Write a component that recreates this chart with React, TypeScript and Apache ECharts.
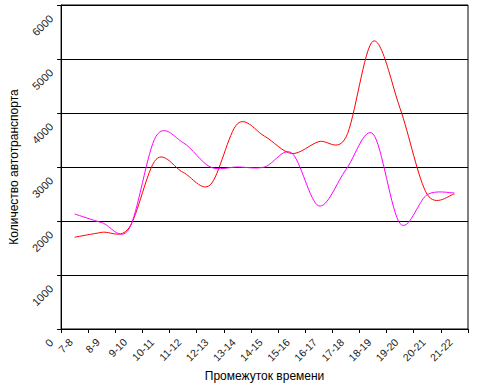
import React, { useEffect, useRef } from "react";
import * as echarts from "echarts";

const categories = ["7-8", "8-9", "9-10", "10-11", "11-12", "12-13", "13-14", "14-15", "15-16", "16-17", "17-18", "18-19", "19-20", "20-21", "21-22"];
const redValues = [1700, 1790, 1870, 3140, 2900, 2670, 3800, 3570, 3250, 3470, 3550, 5330, 4080, 2490, 2500];
const magentaValues = [2130, 1970, 1850, 3570, 3450, 3000, 3000, 3000, 3260, 2280, 2950, 3610, 1950, 2490, 2520];
const yTicks = { min: 0, max: 6000, interval: 1000 };
const xName = "Промежуток времени";
const yName = "Количество автотранспорта";

function smoothRenderer(color: string) {
  return (params: any, api: any) => {
    const i = params.dataIndexInside;
    const n = params.dataInsideLength;
    if (i >= n - 1) return null;
    const p = (k: number) => api.coord([api.value(0, k), api.value(1, k)]);
    const p0 = p(i);
    const p1 = p(i + 1);
    const pPrev = i > 0 ? p(i - 1) : p0;
    const pNext = i + 2 < n ? p(i + 2) : p1;
    const k = 0.16;
    return {
      type: "bezierCurve",
      shape: {
        x1: p0[0],
        y1: p0[1],
        x2: p1[0],
        y2: p1[1],
        cpx1: p0[0] + (p1[0] - pPrev[0]) * k,
        cpy1: p0[1] + (p1[1] - pPrev[1]) * k,
        cpx2: p1[0] - (pNext[0] - p0[0]) * k,
        cpy2: p1[1] - (pNext[1] - p0[1]) * k,
      },
      style: { stroke: color, lineWidth: 1, fill: "none" },
      silent: true,
    };
  };
}

export default function App() {
  const ref = useRef<HTMLDivElement>(null);
  useEffect(() => {
    if (!ref.current) return;
    const chart = echarts.init(ref.current, null, { renderer: "svg" });
    const font = "Liberation Sans, Arial, sans-serif";
    chart.setOption({
      animation: false,
      backgroundColor: "#fff",
      grid: { left: 61, right: 16, top: 5, bottom: 60, show: true, borderColor: "#000", borderWidth: 1, backgroundColor: "transparent" },
      xAxis: {
        type: "category",
        data: categories,
        boundaryGap: true,
        name: xName,
        nameLocation: "middle",
        nameGap: 38,
        nameTextStyle: { fontFamily: font, fontSize: 12, color: "#000" },
        axisLine: { lineStyle: { color: "#000", width: 1 } },
        axisTick: { show: true, length: 4, alignWithLabel: false, lineStyle: { color: "#000" } },
        axisLabel: { rotate: 45, interval: 0, fontFamily: font, fontSize: 10.5, color: "#222", margin: 8, padding: [0, 5, 0, 0] },
        splitLine: { show: false },
      },
      yAxis: {
        type: "value",
        min: yTicks.min,
        max: yTicks.max,
        interval: yTicks.interval,
        name: yName,
        nameLocation: "middle",
        nameGap: 38,
        nameTextStyle: { fontFamily: font, fontSize: 12, color: "#000" },
        axisLine: { show: true, lineStyle: { color: "#000", width: 1 } },
        axisTick: { show: true, length: 4, lineStyle: { color: "#000" } },
        axisLabel: {
          rotate: 45,
          fontFamily: font,
          fontSize: 11,
          color: "#222",
          margin: 6,
          verticalAlign: "top",
          padding: [0, 11, 0, 0],
          formatter: (v: number) => String(v),
        },
        splitLine: { show: true, lineStyle: { color: "#000", width: 1 } },
      },
      series: [
        {
          type: "custom",
          name: "red",
          coordinateSystem: "cartesian2d",
          encode: { x: 0, y: 1 },
          data: redValues.map((v, i) => [i, v]),
          renderItem: smoothRenderer("#ff0000"),
          clip: true,
        },
        {
          type: "custom",
          name: "magenta",
          coordinateSystem: "cartesian2d",
          encode: { x: 0, y: 1 },
          data: magentaValues.map((v, i) => [i, v]),
          renderItem: smoothRenderer("#ff00ff"),
          clip: true,
        },
      ],
    });
    return () => chart.dispose();
  }, []);
  return <div ref={ref} style={{ position: "absolute", left: 0, top: 0, width: 484, height: 389 }} />;
}
